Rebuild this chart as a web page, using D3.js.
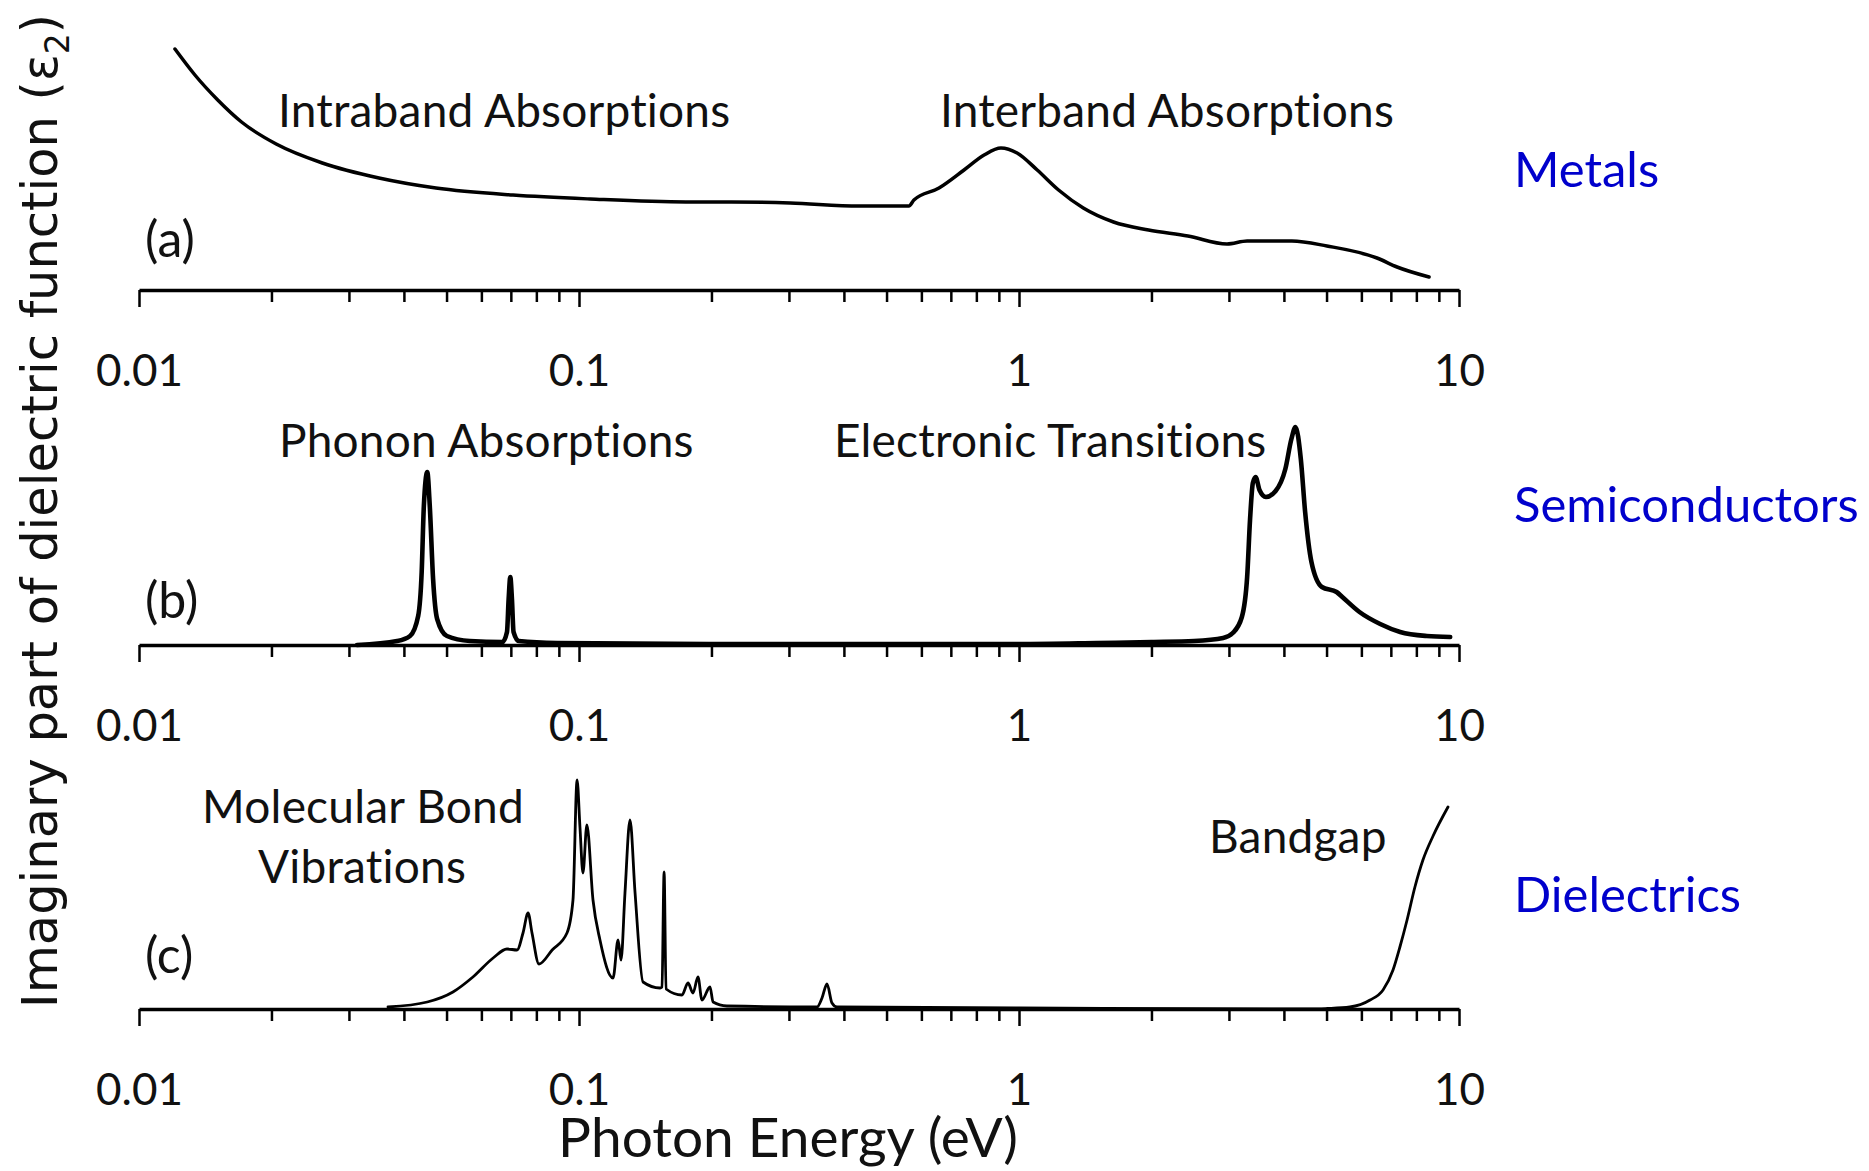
<!DOCTYPE html>
<html>
<head>
<meta charset="utf-8">
<script src="https://cdn.jsdelivr.net/npm/d3@7"></script>
<style>
body { margin: 0; background: #fff; }
svg { display: block; }
text { font-variant-ligatures: none; font-feature-settings: "liga" 0, "clig" 0, "dlig" 0; }
</style>
</head>
<body>
<svg id="svg" width="1869" height="1171"></svg>
<script>
// data (energy in eV, eps2 in arbitrary units)
const energyMetal = [0.01207, 0.0134, 0.0151, 0.0171, 0.0205, 0.0261, 0.0351, 0.0473, 0.0708, 0.106, 0.175, 0.222, 0.302, 0.433, 0.562, 0.577, 0.658, 0.75, 0.833, 0.91, 0.99, 1.10, 1.23, 1.40, 1.64, 1.97, 2.42, 2.97, 3.30, 4.17, 5.01, 6.51, 7.23, 8.55];
const epsMetal = [2.41, 2.15, 1.90, 1.68, 1.46, 1.27, 1.12, 1.02, 0.95, 0.91, 0.88, 0.88, 0.87, 0.84, 0.84, 0.90, 1.02, 1.20, 1.35, 1.42, 1.37, 1.20, 1.00, 0.82, 0.68, 0.60, 0.54, 0.46, 0.49, 0.49, 0.44, 0.32, 0.23, 0.13];

const energySemi = [0.0313, 0.0386, 0.0413, 0.0431, 0.0439, 0.0444, 0.0452, 0.0458, 0.0466, 0.0476, 0.0501, 0.0565, 0.0670, 0.0686, 0.0692, 0.0698, 0.0704, 0.0710, 0.0730, 0.0892, 0.2, 0.5, 1.0, 1.5, 2.0, 2.5, 2.91, 3.06, 3.21, 3.30, 3.35, 3.40, 3.45, 3.52, 3.64, 3.83, 4.03, 4.16, 4.25, 4.37, 4.47, 4.62, 4.88, 5.27, 5.43, 5.94, 6.62, 7.35, 8.45, 9.55];
const epsSemi = [0.0, 0.04, 0.09, 0.29, 0.73, 1.39, 1.73, 1.39, 0.66, 0.26, 0.09, 0.04, 0.03, 0.13, 0.46, 0.68, 0.46, 0.13, 0.04, 0.02, 0.01, 0.01, 0.01, 0.02, 0.03, 0.04, 0.07, 0.12, 0.28, 0.68, 1.25, 1.62, 1.68, 1.55, 1.48, 1.54, 1.76, 2.06, 2.18, 1.86, 1.33, 0.83, 0.58, 0.53, 0.48, 0.33, 0.21, 0.13, 0.09, 0.08];

const energyDiel = [0.0368, 0.0452, 0.0517, 0.0574, 0.0638, 0.0686, 0.0723, 0.0746, 0.0766, 0.0782, 0.0811, 0.0869, 0.0939, 0.0969, 0.0990, 0.1005, 0.1021, 0.1042, 0.1076, 0.1116, 0.1195, 0.1227, 0.1246, 0.1272, 0.1306, 0.1341, 0.1398, 0.1528, 0.1544, 0.1561, 0.1577, 0.1714, 0.1769, 0.1816, 0.1864, 0.1903, 0.1985, 0.2017, 0.2168, 0.3475, 0.3567, 0.3661, 0.3758, 0.3857, 1.0, 4.6, 5.01, 5.65, 6.28, 6.72, 7.08, 7.34, 7.62, 7.94, 8.28, 8.73, 9.44];
const epsDiel = [0.02, 0.07, 0.17, 0.32, 0.51, 0.60, 0.59, 0.76, 0.96, 0.76, 0.45, 0.59, 0.76, 1.09, 2.29, 1.82, 1.36, 1.84, 1.09, 0.69, 0.31, 0.69, 0.49, 1.16, 1.89, 1.16, 0.27, 0.21, 0.22, 1.37, 0.20, 0.14, 0.26, 0.16, 0.32, 0.09, 0.22, 0.07, 0.03, 0.02, 0.11, 0.25, 0.06, 0.02, 0.01, 0.0, 0.005, 0.02, 0.09, 0.19, 0.39, 0.62, 0.89, 1.22, 1.49, 1.73, 2.02];

const majorTicks = [0.01, 0.1, 1, 10];
const tickLabels = ['0.01', '0.1', '1', '10'];
const panelLetters = ['(a)', '(b)', '(c)'];
const panelNames = ['Metals', 'Semiconductors', 'Dielectrics'];

// layout
const svg = d3.select('#svg');
const x = d3.scaleLog().domain([0.01, 10]).range([139, 1459]);
const axisYs = [290, 645, 1009];
const panelHeight = 250;
const textFont = 'Lato, "Open Sans", sans-serif';

let minorTicks = [];
[0.01, 0.1, 1].forEach(d => { for (let k = 2; k <= 9; k++) minorTicks.push(d * k); });

let drawPanel = (i, energy, eps, lineWidth) => {
	const axisY = axisYs[i];
	const y = d3.scaleLinear().domain([0, 2.5]).range([axisY, axisY - panelHeight]);
	const g = svg.append('g');

	// minor ticks
	const minor = g.append('g')
		.attr('transform', `translate(0,${axisY})`)
		.call(d3.axisBottom(x).tickValues(minorTicks).tickSize(12).tickSizeOuter(0).tickFormat(''));
	minor.select('.domain').remove();
	minor.selectAll('line').attr('stroke', '#000').attr('stroke-width', 2.5);

	// major ticks and labels
	const major = g.append('g')
		.attr('transform', `translate(0,${axisY})`)
		.call(d3.axisBottom(x).tickValues(majorTicks).tickSize(17).tickSizeOuter(0).tickFormat((d, j) => tickLabels[j]));
	major.select('.domain').attr('stroke', '#000').attr('stroke-width', 3.5);
	major.selectAll('line').attr('stroke', '#000').attr('stroke-width', 2.5);
	major.selectAll('text')
		.attr('y', 96).attr('dy', 0)
		.attr('fill', '#111')
		.style('font-family', textFont)
		.style('font-size', '44px');

	// curve
	const line = d3.line().x(d => x(d[0])).y(d => y(d[1])).curve(d3.curveMonotoneX);
	g.append('path')
		.datum(d3.zip(energy, eps))
		.attr('d', line)
		.attr('fill', 'none')
		.attr('stroke', '#000')
		.attr('stroke-width', lineWidth)
		.attr('stroke-linejoin', 'round')
		.attr('stroke-linecap', 'round');
};

drawPanel(0, energyMetal, epsMetal, 3.5);
drawPanel(1, energySemi, epsSemi, 4.6);
drawPanel(2, energyDiel, epsDiel, 2.8);

// annotations
const notes = [
	{ t: 'Intraband Absorptions', x: 278, y: 127 },
	{ t: 'Interband Absorptions', x: 940, y: 127 },
	{ t: 'Phonon Absorptions', x: 279, y: 457 },
	{ t: 'Electronic Transitions', x: 834, y: 457 },
	{ t: 'Bandgap', x: 1209, y: 853 },
	{ t: 'Molecular Bond', x: 363, y: 823, a: 'middle' },
	{ t: 'Vibrations', x: 362, y: 883, a: 'middle' }
];
svg.selectAll('.note').data(notes).enter()
	.append('text')
	.attr('class', 'note')
	.attr('x', d => d.x).attr('y', d => d.y)
	.attr('text-anchor', d => d.a || 'start')
	.attr('fill', '#111')
	.style('font-family', textFont)
	.style('font-size', '46px')
	.style('letter-spacing', '0.2px')
	.text(d => d.t);

const letterY = [257, 618, 973];
svg.selectAll('.letter').data(panelLetters).enter()
	.append('text')
	.attr('x', 145).attr('y', (d, i) => letterY[i])
	.attr('fill', '#111')
	.style('font-family', textFont)
	.style('font-size', '50px')
	.text(d => d);

const nameY = [187, 522, 912];
svg.selectAll('.name').data(panelNames).enter()
	.append('text')
	.attr('x', 1514).attr('y', (d, i) => nameY[i])
	.attr('fill', '#0000cc')
	.style('font-family', textFont)
	.style('font-size', '49px')
	.text(d => d);

// axis titles
svg.append('text')
	.attr('x', 788).attr('y', 1157)
	.attr('text-anchor', 'middle')
	.attr('fill', '#111')
	.style('font-family', textFont)
	.style('font-size', '55px')
	.text('Photon Energy (eV)');

const yTitle = svg.append('text')
	.attr('transform', 'translate(57,511) rotate(-90)')
	.attr('text-anchor', 'middle')
	.attr('fill', '#111')
	.style('font-family', '"DejaVu Sans", Verdana, sans-serif')
	.style('font-size', '49.5px');
yTitle.append('tspan').text('Imaginary part of dielectric function (ε');
yTitle.append('tspan').attr('dy', 12).style('font-size', '33px').text('2');
yTitle.append('tspan').attr('dy', -12).text(')');
</script>
</body>
</html>
